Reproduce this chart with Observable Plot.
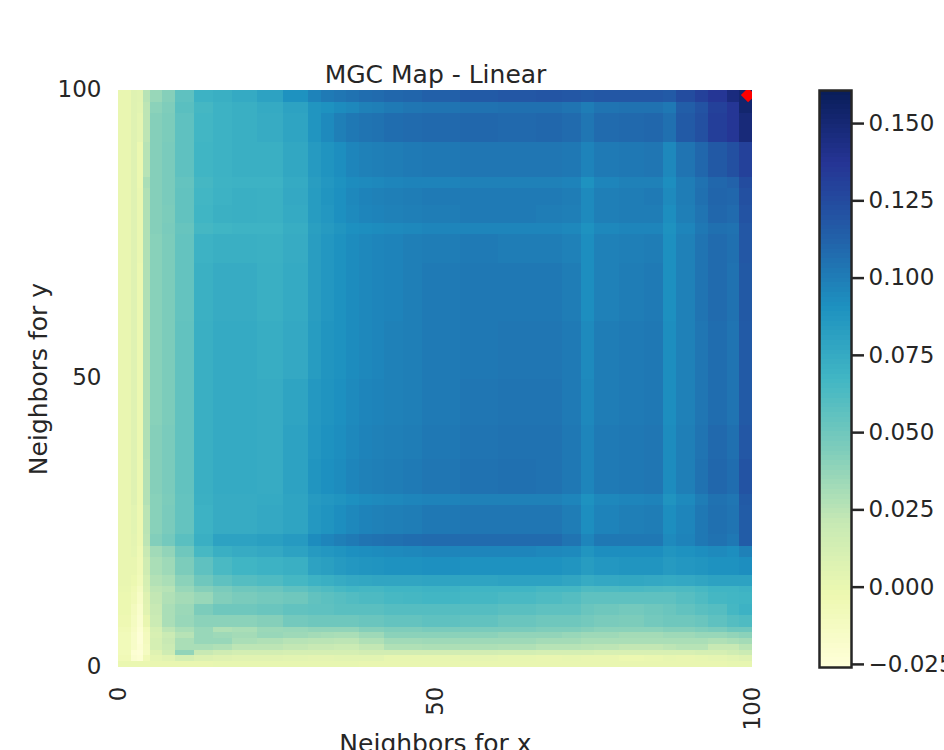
<!DOCTYPE html>
<html><head><meta charset="utf-8">
<script src="https://cdn.jsdelivr.net/npm/d3@7"></script>
<script src="https://cdn.jsdelivr.net/npm/@observablehq/plot@0.6"></script>
<style>
html,body{margin:0;padding:0;background:#fff;overflow:hidden}
#wrap{position:relative;width:944px;height:750px;overflow:hidden}
#wrap svg{position:absolute;top:0;overflow:hidden}
</style></head>
<body><div id="wrap"></div>
<script>
const chartTitle = "MGC Map - Linear";
const xLabel = "Neighbors for x";
const yLabel = "Neighbors for y";
const axisTicks = [0, 50, 100];
const barTicks = [-0.025, 0, 0.025, 0.05, 0.075, 0.1, 0.125, 0.15];
const valueDomain = [-0.026, 0.1607];
const ramp = ["#ffffd9","#edf8b1","#c7e9b4","#7fcdbb","#41b6c4","#1d91c0","#225ea8","#253494","#081d58"];
const best = [{x: 99.3, y: 99.2}];
// block edges, in neighbour counts
const xEdges = [0,2,3,4,5,7,9,12,15,18,22,26,30,32,34,36,38,40,42,45,48,54,60,66,70,73,75,79,83,86,88,91,93,96,98,100];
const yEdges = [100,98,96,91,85,83,80,77,75,70,60,50,42,36,30,28,23,21,19,16,14,13,11,9,7,6,5,4,3,2,1,0];
// estimated statistic x 1000, one row per y block from the top
const grid = [
[0,6,5,26,36,42,56,70,72,75,80,90,97,101,103,105,107,108,110,111,113,116,118,119,118,116,118,118,118,116,124,130,136,146,152],
[0,6,4,24,40,44,58,66,70,72,75,80,88,90,93,95,98,99,101,103,104,105,106,106,104,100,104,105,105,102,114,120,130,136,152],
[0,6,2,24,42,45,56,67,70,72,74,79,88,94,99,102,104,105,107,108,109,110,109,110,108,103,108,109,110,106,116,122,132,136,148],
[0,6,-2,26,42,46,56,68,70,72,72,77,85,89,92,96,98,99,100,101,102,103,103,103,102,97,101,102,103,95,104,110,117,122,130],
[0,6,-2,30,42,46,54,66,69,70,70,75,83,87,90,93,94,95,96,97,97,98,98,98,97,90,96,98,98,92,100,105,110,112,124],
[0,6,-1,28,42,46,55,67,70,72,71,76,84,88,91,95,97,98,99,100,101,101,101,101,100,94,99,100,101,94,100,106,111,110,122],
[0,6,-1,28,42,45,55,68,71,72,71,75,84,87,91,94,96,97,98,99,100,101,101,100,99,94,99,100,100,92,99,104,110,108,120],
[0,6,-1,28,42,46,53,66,68,69,69,73,82,85,88,91,92,93,94,95,96,96,96,96,95,90,95,96,96,90,96,102,106,105,118],
[0,6,-1,28,41,45,54,70,72,72,71,74,83,87,90,93,95,96,97,99,100,101,100,100,98,92,98,99,100,91,98,104,108,106,118],
[0,6,-2,28,41,45,54,71,74,74,72,75,83,87,90,93,95,96,97,99,101,102,102,102,100,92,98,100,101,91,98,104,108,105,117],
[0,6,-2,28,41,45,55,72,75,75,73,76,84,88,90,93,95,96,98,99,101,102,103,103,101,94,100,101,102,92,98,103,107,104,116],
[0,6,-2,28,41,45,55,72,75,75,74,79,86,89,91,94,96,97,98,99,101,103,104,104,101,95,100,101,102,92,98,103,107,104,116],
[0,6,-2,28,42,46,55,72,75,75,74,80,87,90,92,95,97,98,99,100,102,104,105,105,102,96,101,102,103,93,99,104,109,106,118],
[0,6,-2,27,42,46,55,72,75,75,74,80,88,91,93,96,98,99,100,101,103,105,106,105,102,96,101,102,103,93,99,105,110,107,120],
[0,6,-2,27,41,45,54,71,74,74,75,79,85,87,89,91,93,94,95,96,97,98,98,98,96,90,95,96,97,89,94,100,105,103,116],
[0,4,-3,25,41,46,54,70,74,74,76,79,86,89,92,95,97,98,99,100,102,103,103,103,100,92,97,99,100,92,96,102,106,104,115],
[0,3,-3,24,43,48,58,72,80,80,82,85,93,96,99,101,104,105,106,107,108,108,108,108,104,96,102,102,102,94,97,102,105,102,115],
[0,2,-5,20,33,38,50,65,72,74,76,80,85,87,89,91,92,93,94,95,96,96,96,95,94,88,92,92,92,88,90,92,94,92,98],
[0,0,-6,16,30,34,45,56,64,68,70,72,80,82,85,87,88,89,90,90,91,90,90,90,88,84,87,88,88,85,87,88,90,90,92],
[0,-2,-8,12,27,30,40,50,56,60,62,66,70,72,74,76,77,78,78,78,79,79,80,80,78,74,76,77,76,75,76,78,80,80,80],
[-1,-5,-12,10,24,26,36,42,46,50,52,56,60,62,65,67,66,66,68,68,69,68,68,66,66,62,63,64,63,62,63,65,68,68,70],
[-2,-7,-15,6,22,28,32,36,43,46,48,50,55,57,59,61,63,63,65,66,67,66,64,62,60,56,56,56,56,56,59,62,66,67,68],
[-2,-10,-18,5,20,30,35,45,50,50,52,55,56,56,58,58,58,58,60,60,60,60,58,56,56,52,50,48,50,52,55,58,60,66,70],
[-4,-12,-20,0,18,30,36,40,40,40,42,48,50,50,50,50,52,52,54,54,56,55,52,50,50,48,46,45,48,50,50,52,56,60,62],
[-6,-14,-22,-8,12,24,30,36,28,30,35,36,38,38,38,38,42,42,44,44,46,46,46,44,44,42,40,40,40,42,42,44,46,50,50],
[-8,-16,-24,-10,10,18,26,36,34,32,36,34,32,31,30,30,34,34,40,40,40,40,38,38,36,34,34,32,32,34,34,36,36,38,40],
[-8,-16,-24,-10,12,20,30,36,36,30,28,26,25,25,24,24,28,28,33,33,34,34,34,32,32,30,30,30,30,30,30,30,28,30,32],
[-8,-16,-22,-12,12,18,30,30,28,24,24,22,20,20,18,18,22,22,28,28,29,29,28,26,26,25,24,22,22,24,26,26,20,20,25],
[-8,-22,-24,-12,6,16,38,20,16,13,13,12,12,12,12,12,14,14,14,14,14,14,13,12,12,12,10,10,10,10,10,12,12,15,18],
[-6,-20,-22,-6,2,5,12,8,6,5,5,4,3,3,4,4,4,4,1,1,1,2,1,0,1,0,0,-2,-1,1,0,1,2,4,6],
[-1,-1,-1,-1,0,0,0,0,1,1,1,1,1,1,1,1,0,0,0,0,0,0,0,0,0,0,0,0,0,0,0,0,0,1,1]
];

const cells = grid.flatMap((row, r) => row.map((v, c) => ({
  x1: xEdges[c], x2: xEdges[c + 1], y1: yEdges[r + 1], y2: yEdges[r], value: v / 1000
})));
const color = {type: "linear", domain: d3.range(ramp.length).map(i => valueDomain[0] + (valueDomain[1] - valueDomain[0]) * i / (ramp.length - 1)), range: ramp, interpolate: "rgb", clamp: true};
const font = {fontFamily: "'DejaVu Sans', sans-serif", fontSize: "23px", color: "#262626", background: "transparent"};

const main = Plot.plot({
  width: 780, height: 750,
  marginLeft: 118, marginRight: 28, marginTop: 90, marginBottom: 83,
  style: font,
  color,
  x: {domain: [0, 100]},
  y: {domain: [0, 100]},
  marks: [
    Plot.rect(cells, {x1: "x1", x2: "x2", y1: "y1", y2: "y2", fill: "value", shapeRendering: "crispEdges"}),
    Plot.dot(best, {x: "x", y: "y", symbol: "diamond2", r: 6.5, fill: "#ff0000", clip: "frame"}),
    Plot.axisX({ticks: axisTicks, tickSize: 0, tickRotate: -90, tickPadding: 19, fontSize: 23, label: null, fill: "#262626"}),
    Plot.axisY({ticks: axisTicks, tickSize: 0, tickPadding: 17, fontSize: 23, label: null, fill: "#262626", dy: -1}),
    Plot.text([chartTitle], {frameAnchor: "top", dy: -16, lineAnchor: "middle", fontSize: 25, fill: "#262626"}),
    Plot.text([xLabel], {frameAnchor: "bottom", dy: 76, lineAnchor: "middle", fontSize: 25, fill: "#262626"}),
    Plot.text([yLabel], {frameAnchor: "left", dx: -80, rotate: -90, textAnchor: "middle", lineAnchor: "middle", fontSize: 25, fill: "#262626"})
  ]
});
main.style.left = "0px";

const step = (valueDomain[1] - valueDomain[0]) / 120;
const levels = d3.range(120).map(i => valueDomain[0] + i * step);
const bar = Plot.plot({
  width: 164, height: 750,
  marginLeft: 39, marginRight: 93, marginTop: 90, marginBottom: 83,
  style: font,
  color,
  x: {domain: [0, 1], axis: null},
  y: {domain: valueDomain},
  marks: [
    Plot.rect(levels, {x1: 0, x2: 1, y1: d => d, y2: d => d + step, fill: d => d + step / 2, shapeRendering: "crispEdges"}),
    Plot.frame({stroke: "#262626", strokeWidth: 2.5}),
    Plot.axisY({anchor: "right", ticks: barTicks, tickFormat: d3.format(".3f"), tickSize: 12, tickPadding: 5, strokeWidth: 2.5, stroke: "#262626", fill: "#262626", fontSize: 23, label: null})
  ]
});
bar.style.left = "780px";
document.getElementById("wrap").append(main, bar);
</script></body></html>
